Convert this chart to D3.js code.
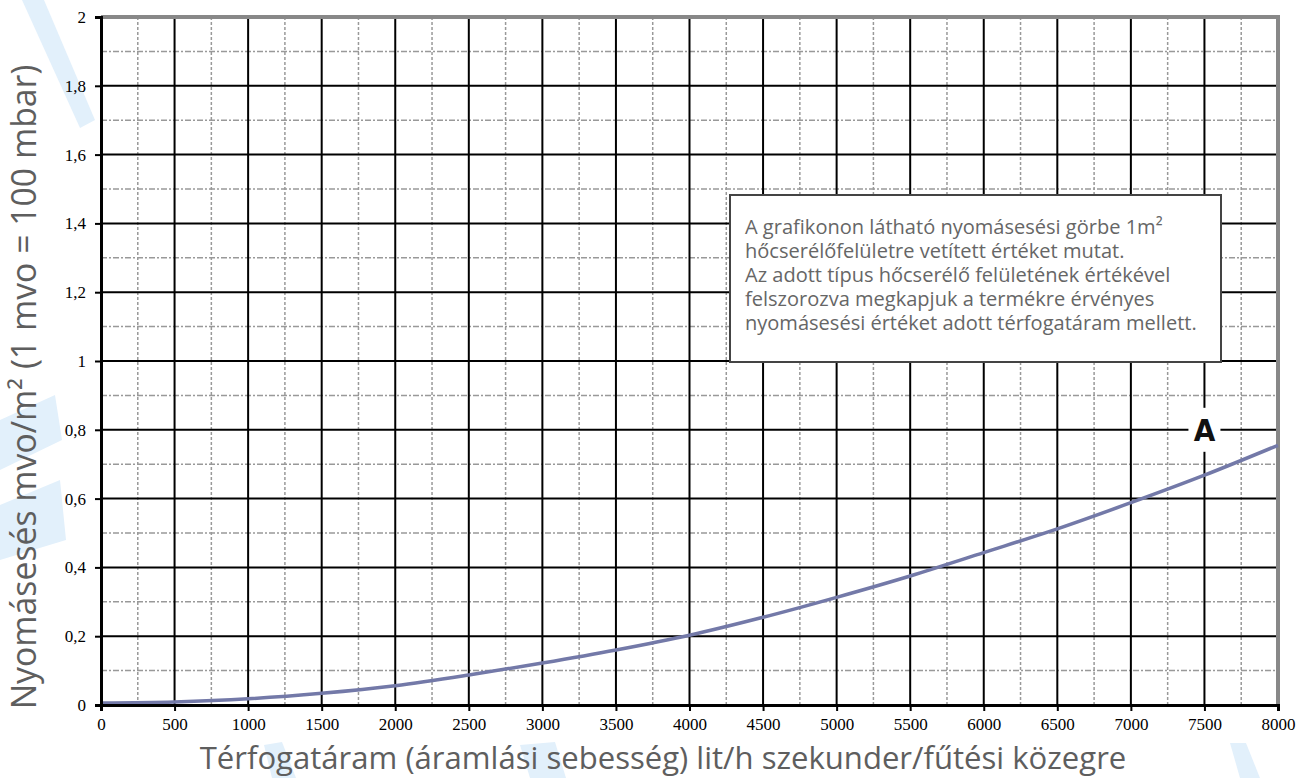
<!DOCTYPE html>
<html>
<head>
<meta charset="utf-8">
<script src="https://cdn.jsdelivr.net/npm/d3@7"></script>
<style>
  body { margin: 0; background: #fff; }
  svg { display: block; }
</style>
</head>
<body>
<svg id="chart"></svg>
<script>
  // Data
  var flowValues = [0, 500, 1000, 1500, 2000, 2500, 3000, 3500, 4000, 4500, 5000, 5500, 6000, 6500, 7000, 7500, 8000]
  var pressureA = [0.006, 0.009, 0.018, 0.034, 0.056, 0.087, 0.122, 0.160, 0.203, 0.255, 0.313, 0.375, 0.443, 0.512, 0.588, 0.668, 0.755]
  var xTicks = [0, 500, 1000, 1500, 2000, 2500, 3000, 3500, 4000, 4500, 5000, 5500, 6000, 6500, 7000, 7500, 8000]
  var xMinorTicks = [250, 750, 1250, 1750, 2250, 2750, 3250, 3750, 4250, 4750, 5250, 5750, 6250, 6750, 7250, 7750]
  var yTicks = [0, 0.2, 0.4, 0.6, 0.8, 1, 1.2, 1.4, 1.6, 1.8, 2]
  var yMinorTicks = [0.1, 0.3, 0.5, 0.7, 0.9, 1.1, 1.3, 1.5, 1.7, 1.9]
  var noteLines = [
    'A grafikonon látható nyomásesési görbe 1m²',
    'hőcserélőfelületre vetített értéket mutat.',
    'Az adott típus hőcserélő felületének értékével',
    'felszorozva megkapjuk a termékre érvényes',
    'nyomásesési értéket adott térfogatáram mellett.'
  ]
  var seriesLabel = { name: 'A', x: 7500, y: 0.8 }
  var yTitle = 'Nyomásesés mvo/m² (1 mvo = 100 mbar)'
  var xTitle = 'Térfogatáram (áramlási sebesség) lit/h szekunder/fűtési közegre'

  var WIDTH = 1300
  var HEIGHT = 778
  var LEFT = 101
  var RIGHT = 1278
  var TOP = 17
  var BOTTOM = 705
  var CURVE_COLOR = '#7379a8'
  var TITLE_FONT = '"Open Sans", Lato, sans-serif'

  var svg = d3.select('#chart')
    .attr('width', WIDTH)
    .attr('height', HEIGHT)

  // faint watermark pieces behind the chart
  var wm = svg.append('g').attr('fill', '#e2f0fb')
  var wmShapes = [
    [[22, 0], [44, 0], [95, 120], [80, 128]],
    [[0, 420], [55, 395], [62, 440], [0, 470]],
    [[0, 505], [60, 480], [66, 540], [0, 560]],
    [[264, 745], [282, 742], [296, 778], [272, 778]],
    [[1230, 743], [1246, 743], [1260, 778], [1240, 778]],
    [[520, 745], [555, 742], [566, 778], [530, 778]]
  ]
  wm.selectAll('path')
    .data(wmShapes)
    .enter()
    .append('path')
    .attr('d', function (d) { return 'M' + d.join('L') + 'Z' })

  var x = d3.scaleLinear().domain([0, 8000]).range([LEFT, RIGHT])
  var y = d3.scaleLinear().domain([0, 2]).range([BOTTOM, TOP])

  // plot background
  svg.append('rect')
    .attr('x', x(0)).attr('y', y(2))
    .attr('width', x(8000) - x(0)).attr('height', y(0) - y(2))
    .attr('fill', '#fff')

  var grid = svg.append('g').classed('grid', true)

  // minor grid
  grid.selectAll('line.vminor')
    .data(xMinorTicks)
    .enter().append('line')
    .attr('x1', function (d) { return x(d) }).attr('x2', function (d) { return x(d) })
    .attr('y1', y(0)).attr('y2', y(2))
    .attr('stroke', '#999').attr('stroke-width', 1.5)
    .attr('stroke-dasharray', '3,2')
  grid.selectAll('line.hminor')
    .data(yMinorTicks)
    .enter().append('line')
    .attr('x1', x(0)).attr('x2', x(8000))
    .attr('y1', function (d) { return y(d) }).attr('y2', function (d) { return y(d) })
    .attr('stroke', '#999').attr('stroke-width', 1.5)
    .attr('stroke-dasharray', '6,2,2,2')

  // major grid
  grid.selectAll('line.vmajor')
    .data(xTicks.slice(1, -1))
    .enter().append('line')
    .attr('x1', function (d) { return x(d) }).attr('x2', function (d) { return x(d) })
    .attr('y1', y(0)).attr('y2', y(2))
    .attr('stroke', '#000').attr('stroke-width', 2)
  grid.selectAll('line.hmajor')
    .data(yTicks.slice(1, -1))
    .enter().append('line')
    .attr('x1', x(0)).attr('x2', x(8000))
    .attr('y1', function (d) { return y(d) }).attr('y2', function (d) { return y(d) })
    .attr('stroke', '#000').attr('stroke-width', 2)

  // gray frame top / right
  svg.append('path')
    .attr('d', 'M' + x(0) + ',' + y(2) + 'H' + x(8000) + 'V' + y(0))
    .attr('fill', 'none')
    .attr('stroke', '#888').attr('stroke-width', 4)

  // curve
  var line = d3.line()
    .x(function (d, i) { return x(flowValues[i]) })
    .y(function (d) { return y(d) })
    .curve(d3.curveMonotoneX)
  svg.append('path')
    .datum(pressureA)
    .attr('d', line)
    .attr('fill', 'none')
    .attr('stroke', CURVE_COLOR)
    .attr('stroke-width', 3.5)

  // axes
  var xAxis = d3.axisBottom(x)
    .tickValues(xTicks)
    .tickSize(6)
    .tickPadding(7)
    .tickFormat(d3.format('d'))
  var yAxis = d3.axisLeft(y)
    .tickValues(yTicks)
    .tickSize(6)
    .tickPadding(9)
    .tickFormat(function (d) { return String(+d.toFixed(1)).replace('.', ',') })

  var gx = svg.append('g')
    .attr('transform', 'translate(0,' + y(0) + ')')
    .call(xAxis)
  var gy = svg.append('g')
    .attr('transform', 'translate(' + x(0) + ',0)')
    .call(yAxis)
  ;[gx, gy].forEach(function (g) {
    g.attr('font-size', 17).attr('font-family', '"Liberation Serif", "Times New Roman", serif')
    g.select('.domain').attr('stroke', '#000').attr('stroke-width', 3)
    g.selectAll('.tick line').attr('stroke', '#000').attr('stroke-width', 2)
    g.selectAll('.tick text').attr('fill', '#000')
  })

  // series label "A" with white knockout
  var lx = x(seriesLabel.x)
  var ly = y(seriesLabel.y)
  svg.append('rect')
    .attr('x', lx - 16).attr('y', ly - 22)
    .attr('width', 32).attr('height', 44)
    .attr('fill', '#fff')
  svg.append('text')
    .attr('x', lx).attr('y', ly + 11)
    .attr('text-anchor', 'middle')
    .style('font-family', '"DejaVu Sans Condensed", "DejaVu Sans", sans-serif')
    .style('font-weight', 'bold')
    .style('font-size', '31px')
    .attr('fill', '#111')
    .text(seriesLabel.name)

  // note box
  var note = svg.append('g').attr('transform', 'translate(730,195)')
  note.append('rect')
    .attr('width', 491).attr('height', 167)
    .attr('fill', '#fff')
    .attr('stroke', '#444').attr('stroke-width', 2)
  var noteText = note.selectAll('text')
    .data(noteLines)
    .enter().append('text')
    .attr('x', 15)
    .attr('y', function (d, i) { return 39 + i * 24 })
    .attr('fill', '#666')
    .style('font-family', TITLE_FONT)
    .style('font-size', '16px')
    .text(function (d) { return d })
  fitWidth(noteText.filter(function (d, i) { return i === 4 }).node(), 452, noteText)

  // axis titles
  var xt = svg.append('text')
    .attr('x', 663).attr('y', 769)
    .attr('text-anchor', 'middle')
    .attr('fill', '#5e5e5e')
    .style('font-family', TITLE_FONT)
    .style('font-size', '26px')
    .text(xTitle)
  fitWidth(xt.node(), 927, xt)

  var yt = svg.append('text')
    .attr('transform', 'translate(36,387) rotate(-90)')
    .attr('text-anchor', 'middle')
    .attr('fill', '#5e5e5e')
    .style('font-family', TITLE_FONT)
    .style('font-size', '26px')
    .text(yTitle)
  fitWidth(yt.node(), 645, yt)

  // scale font size so a reference text node spans the target width
  function fitWidth(node, target, sel) {
    var size = parseFloat(node.style.fontSize)
    var len = node.getComputedTextLength()
    if (!len) return
    sel.style('font-size', (size * target / len).toFixed(2) + 'px')
  }
</script>
</body>
</html>
